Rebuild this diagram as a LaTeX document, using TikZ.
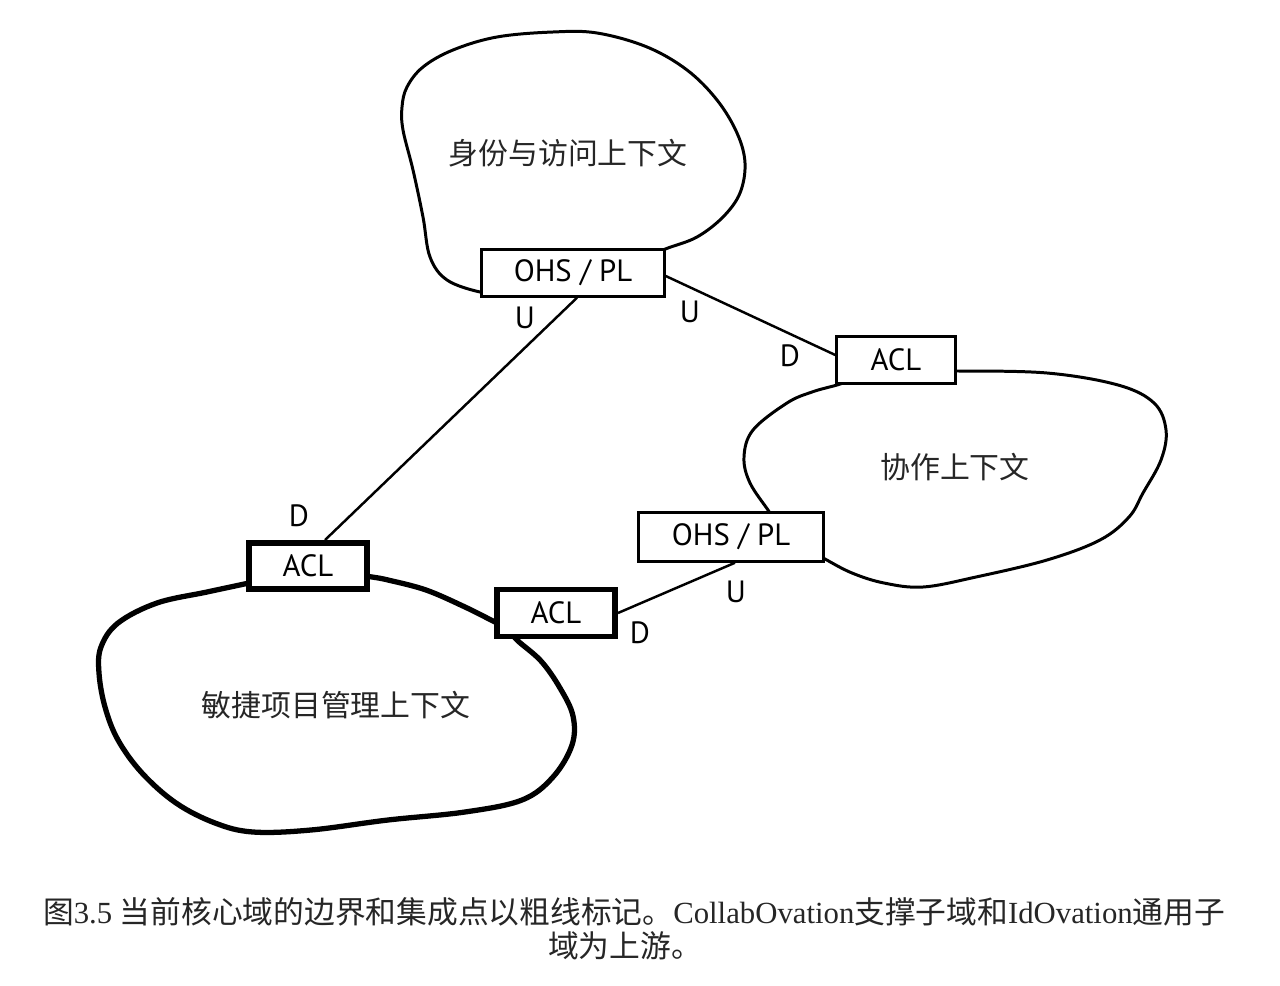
\documentclass[tikz,border=0pt]{standalone}
\usepackage{fontspec}
\setmainfont{Liberation Serif}
\setsansfont{PT Sans}
\newfontfamily\cjk{Noto Sans CJK SC}
\newcommand\boxfont{\sffamily\fontsize{17.5}{20}\selectfont}
\newcommand\ctxfont{\cjk\fontsize{17}{20}\selectfont}
\newcommand\capfont{\fontsize{17.5}{21}\selectfont}
\begin{document}
\begin{tikzpicture}[x=0.02cm,y=-0.02cm,
  box/.style={draw, line width=1.4pt, fill=white, inner sep=0pt, font=\boxfont},
  thickbox/.style={box, line width=3.4pt},
  lbl/.style={font=\boxfont, inner sep=0pt},
  ctx/.style={font=\ctxfont, text=black!85, inner sep=0pt},
  captext/.style={font=\capfont, text=black!85, inner sep=0pt},
  blob/.style={line width=1.7pt, line join=round, line cap=round},
  thickblob/.style={line width=3pt, line join=round, line cap=round},
  link/.style={line width=1.4pt}]
\useasboundingbox (0,0) rectangle (1280,986);
\fill[white] (0,0) rectangle (1280,986);

% blobs
\draw[blob] plot[smooth, tension=0.6] coordinates {(500,292) (480,292) (447,280) (430,257) (423,217) (413,170) (403,130) (402,107) (407,87) (423,67) (453,50) (497,37) (553,32) (597,33) (647,47) (687,70) (717,100) (737,133) (745,163) (740,193) (723,217) (697,237) (668,248) (650,255)};
\draw[blob] plot[smooth, tension=0.6] coordinates {(940,372) (958,371) (1047,373) (1118,385) (1154,403) (1166,430) (1161,460) (1143,493) (1129,517) (1100,540) (1047,560) (976,577) (923,587) (884,583) (852,573) (825,559) (810,550)};
\draw[blob] plot[smooth, tension=0.6] coordinates {(776,525) (770,513) (750,483) (744,457) (753,430) (787,403) (812,392) (837,385) (852,380)};
\draw[thickblob] plot[smooth, tension=0.6] coordinates {(262,580) (249,583) (207,592) (157,603) (118,623) (101,647) (99,673) (105,707) (118,740) (142,773) (176,803) (215,823) (253,832) (311,830) (388,820) (465,812) (522,800) (553,777) (572,745) (573,716) (560,688) (541,661) (517,640) (508,628)};
\draw[thickblob] plot[smooth, tension=0.6] coordinates {(508,628) (495,622) (465,607) (426,590) (388,580) (372,577) (358,575)};

% boxes
\node[box, minimum width=3.66cm, minimum height=0.94cm] (ohs1) at (573,273) {OHS / PL};
\node[box, minimum width=2.38cm, minimum height=0.94cm] (acl1) at (896,360) {ACL};
\node[box, minimum width=3.70cm, minimum height=0.98cm] (ohs2) at (731,537) {OHS / PL};
\node[thickbox, minimum width=2.36cm, minimum height=0.92cm] (acl2) at (308,566) {ACL};
\node[thickbox, minimum width=2.36cm, minimum height=0.94cm] (acl3) at (556,613) {ACL};

% connectors
\draw[link] ([xshift=0.08cm]ohs1.south) -- ([xshift=0.34cm]acl2.north);
\draw[link] ([yshift=-0.06cm]ohs1.east) -- ([yshift=0.1cm]acl1.west);
\draw[link] ([xshift=0.08cm]ohs2.south) -- (acl3.east);

% U / D labels
\node[lbl] (u1) at (525,318) {U};
\node[lbl] (u2) at (690,312) {U};
\node[lbl] (d1) at (790,356) {D};
\node[lbl] (d2) at (299,516) {D};
\node[lbl] (u3) at (736,592) {U};
\node[lbl] (d3) at (640,633) {D};

% context names
\node[ctx] (c1) at (568,153) {身份与访问上下文};
\node[ctx] (c2) at (955,467) {协作上下文};
\node[ctx] (c3) at (336,705) {敏捷项目管理上下文};

% caption
\node[captext] (cap1) at (634,912) {{\cjk 图}3.5 {\cjk 当前核心域的边界和集成点以粗线标记。}CollabOvation{\cjk 支撑子域和}IdOvation{\cjk 通用子}};
\node[captext] (cap2) at (625,946) {\cjk 域为上游。};
\end{tikzpicture}
\end{document}
